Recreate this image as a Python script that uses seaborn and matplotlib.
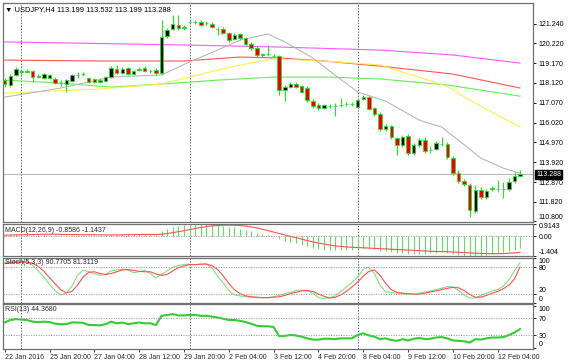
import matplotlib
matplotlib.use("Agg")
import matplotlib.pyplot as plt
import matplotlib.transforms as mtransforms
import numpy as np
import seaborn as sns

# USDJPY H4 candles, 22 Jan - 12 Feb 2016
opens = [
    118.27, 118.01, 118.54, 118.70, 118.75, 118.75, 118.48, 118.38, 118.38, 118.33,
    118.11, 118.06, 118.22, 118.54, 118.59, 118.38, 118.33, 118.27, 118.22, 118.43,
    118.86, 118.64, 118.91, 118.59, 118.80, 118.91, 118.75, 118.80, 118.64, 120.60,
    120.98, 121.19, 121.03, 121.35, 121.35, 121.35, 121.29, 121.24, 120.98, 120.98,
    120.76, 120.45, 120.71, 120.50, 120.18, 119.97, 119.60, 119.65, 119.54, 119.54,
    117.74, 117.90, 118.06, 117.95, 117.85, 117.16, 116.95, 116.79, 116.89, 116.89,
    116.95, 117.00, 117.00, 116.84, 117.27, 117.37, 116.79, 116.47, 115.68, 115.83,
    115.20, 114.83, 115.30, 114.41, 114.83, 115.09, 114.56, 114.62, 114.88, 114.88,
    114.14, 113.34, 112.92, 112.71, 111.33, 112.44, 112.07, 112.50, 112.50, 112.50,
    112.50, 112.92, 113.199]
highs = [
    118.38, 118.59, 118.96, 118.80, 118.86, 118.80, 118.59, 118.64, 118.59, 118.43,
    118.27, 118.33, 118.59, 118.70, 118.70, 118.43, 118.38, 118.38, 118.48, 119.02,
    119.07, 118.96, 118.96, 118.80, 118.96, 119.02, 118.86, 118.91, 121.45, 121.03,
    121.72, 121.72, 121.19, 121.50, 121.45, 121.45, 121.40, 121.35, 121.08, 121.08,
    120.82, 120.76, 120.76, 120.55, 120.29, 120.07, 119.70, 120.13, 119.65, 119.60,
    118.01, 118.17, 118.17, 118.01, 117.95, 117.27, 117.05, 117.00, 117.00, 117.05,
    117.32, 117.11, 117.11, 117.32, 117.48, 117.42, 116.84, 116.58, 115.94, 115.89,
    115.25, 115.36, 115.41, 114.93, 115.20, 115.25, 114.77, 115.04, 115.25, 114.99,
    114.24, 113.50, 113.02, 112.81, 112.71, 112.60, 112.50, 112.65, 112.97, 112.87,
    113.08, 113.40, 113.532]
lows = [
    117.90, 117.90, 118.48, 118.54, 118.64, 118.17, 118.38, 118.33, 118.33, 118.06,
    117.95, 117.64, 118.17, 118.38, 118.48, 118.11, 118.11, 118.11, 118.17, 118.38,
    118.59, 118.59, 118.54, 118.54, 118.75, 118.70, 118.64, 118.54, 118.54, 120.50,
    120.92, 120.92, 120.92, 121.24, 121.24, 121.13, 121.19, 121.03, 120.66, 120.71,
    120.29, 120.39, 120.39, 120.07, 119.86, 119.49, 119.49, 119.54, 119.44, 117.48,
    117.16, 117.85, 117.85, 117.58, 117.11, 116.79, 116.68, 116.74, 116.79, 116.36,
    116.84, 116.89, 116.89, 116.79, 117.21, 116.68, 116.36, 115.57, 115.57, 115.15,
    114.30, 114.72, 114.30, 114.30, 114.72, 114.41, 114.41, 114.56, 114.77, 114.09,
    113.24, 112.81, 112.65, 111.01, 111.22, 111.97, 111.97, 112.39, 112.34, 112.02,
    112.39, 112.81, 113.199]
closes = [
    118.06, 118.48, 118.86, 118.75, 118.72, 118.43, 118.46, 118.59, 118.54, 118.11,
    118.10, 118.27, 118.54, 118.56, 118.60, 118.17, 118.17, 118.17, 118.43, 118.91,
    118.64, 118.86, 118.59, 118.75, 118.86, 118.75, 118.74, 118.64, 120.55, 120.92,
    121.24, 121.03, 121.08, 121.36, 121.34, 121.19, 121.30, 121.08, 120.97, 120.76,
    120.39, 120.66, 120.50, 120.18, 119.97, 119.60, 119.65, 119.64, 119.53, 117.74,
    117.90, 118.06, 117.90, 117.64, 117.21, 116.89, 116.79, 116.95, 116.88, 116.90,
    116.94, 117.01, 116.99, 117.21, 117.37, 116.74, 116.47, 115.68, 115.83, 115.25,
    114.83, 115.25, 114.41, 114.83, 115.09, 114.51, 114.55, 114.93, 114.89, 114.19,
    113.34, 112.92, 112.76, 111.38, 112.44, 112.07, 112.39, 112.55, 112.51, 112.49,
    112.87, 113.199, 113.288]

# moving averages, sampled along each line (bar index, price)
gray_bars = [0, 10, 19, 28, 33, 38, 42, 47, 50, 55, 58, 63, 68, 74, 78, 81, 85, 89, 92]
gray_vals = [117.37, 117.85, 118.43, 118.54, 119.23, 119.86, 120.39, 120.71, 120.29, 119.44,
             118.75, 117.64, 117.16, 116.15, 115.78, 115.09, 114.14, 113.61, 113.34]
yellow_bars = [0, 17, 28, 33, 41, 48, 57, 67, 79, 83, 92]
yellow_vals = [117.58, 117.80, 118.06, 118.43, 119.01, 119.39, 119.28, 119.07, 117.95, 117.21, 115.78]
green_bars = [0, 10, 19, 28, 38, 48, 58, 67, 79, 92]
green_vals = [118.27, 118.11, 117.90, 118.06, 118.27, 118.43, 118.43, 118.33, 118.01, 117.42]
red_bars = [0, 17, 32, 42, 49, 57, 67, 80, 92]
red_vals = [119.33, 119.28, 119.28, 119.49, 119.44, 119.28, 119.01, 118.59, 117.85]
magenta_bars = [0, 32, 49, 67, 80, 92]
magenta_vals = [120.29, 120.13, 120.02, 119.86, 119.60, 119.17]

macd_hist = [
    0.12, 0.14, 0.17, 0.19, 0.20, 0.19, 0.16, 0.14, 0.12, 0.10,
    0.08, 0.08, 0.09, 0.11, 0.12, 0.11, 0.10, 0.09, 0.09, 0.11,
    0.12, 0.13, 0.13, 0.13, 0.13, 0.12, 0.12, 0.10, 0.35, 0.52,
    0.66, 0.76, 0.83, 0.88, 0.91, 0.90, 0.88, 0.86, 0.82, 0.77,
    0.70, 0.63, 0.55, 0.46, 0.37, 0.27, 0.18, 0.10, 0.03, -0.20,
    -0.33, -0.42, -0.50, -0.60, -0.72, -0.84, -0.93, -0.98, -1.00, -1.01,
    -1.00, -0.98, -0.96, -0.88, -0.80, -0.82, -0.90, -1.02, -1.08, -1.15,
    -1.20, -1.20, -1.24, -1.25, -1.23, -1.24, -1.22, -1.18, -1.14, -1.17,
    -1.26, -1.34, -1.38, -1.40, -1.39, -1.37, -1.33, -1.27, -1.20, -1.12,
    -1.03, -0.95, -0.8586]
macd_signal = [
    0.08, 0.09, 0.10, 0.11, 0.12, 0.13, 0.14, 0.15, 0.15, 0.15,
    0.14, 0.13, 0.13, 0.12, 0.12, 0.12, 0.11, 0.11, 0.10, 0.10,
    0.10, 0.11, 0.12, 0.12, 0.13, 0.13, 0.13, 0.13, 0.15, 0.20,
    0.26, 0.33, 0.40, 0.48, 0.56, 0.63, 0.69, 0.74, 0.77, 0.79,
    0.80, 0.79, 0.77, 0.73, 0.67, 0.60, 0.50, 0.41, 0.30, 0.20,
    0.10, 0.00, -0.10, -0.20, -0.30, -0.40, -0.48, -0.55, -0.62, -0.68,
    -0.72, -0.76, -0.78, -0.80, -0.82, -0.84, -0.86, -0.88, -0.90, -0.92,
    -0.94, -0.96, -0.98, -1.00, -1.02, -1.04, -1.06, -1.08, -1.09, -1.10,
    -1.12, -1.14, -1.16, -1.18, -1.20, -1.22, -1.23, -1.24, -1.24, -1.23,
    -1.21, -1.18, -1.1437]

stoch_main = [
    90, 92, 93, 92, 91, 84, 72, 58, 42, 28,
    18, 22, 38, 62, 74, 70, 66, 62, 64, 72,
    74, 76, 74, 68, 70, 73, 66, 56, 64, 72,
    80, 84, 86, 87, 86, 87, 88, 78, 60, 45,
    28, 18, 16, 14, 13, 12, 12, 12, 14, 17,
    21, 24, 28, 29, 27, 22, 12, 10, 12, 16,
    26, 36, 46, 58, 76, 80, 66, 40, 25, 24,
    22, 21, 20, 19, 22, 25, 27, 30, 33, 37,
    36, 28, 18, 11, 11, 17, 22, 27, 30, 38,
    52, 72, 90.77]
stoch_signal = [
    88, 90, 91, 92, 92, 89, 82, 71, 57, 43,
    30, 23, 26, 40, 58, 69, 70, 66, 64, 66,
    70, 74, 75, 73, 71, 70, 70, 65, 62, 64,
    72, 79, 83, 86, 86, 87, 87, 84, 75, 61,
    44, 30, 21, 16, 14, 13, 12, 12, 13, 14,
    17, 21, 24, 27, 28, 26, 20, 15, 11, 13,
    18, 26, 36, 47, 60, 71, 74, 62, 44, 30,
    24, 22, 21, 20, 20, 22, 25, 27, 30, 33,
    35, 34, 28, 19, 13, 13, 17, 22, 26, 32,
    40, 54, 81.31]

rsi_vals = [
    60, 66, 68, 67, 66, 62, 61, 62, 61, 57,
    56, 56, 60, 60, 59, 54, 54, 53, 56, 62,
    58, 60, 56, 58, 60, 58, 58, 54, 76, 78,
    80, 77, 77, 78, 78, 76, 76, 74, 72, 69,
    66, 66, 64, 61, 57, 52, 51, 51, 49, 27,
    28, 30, 29, 26, 22, 19, 19, 21, 21, 20,
    22, 22, 22, 30, 34, 29, 26, 20, 22, 18,
    16, 20, 17, 21, 23, 20, 21, 24, 25, 22,
    17, 16, 15, 12, 20, 19, 22, 24, 24, 25,
    30, 36, 44.37]

tick_bars = [0, 8, 16, 24, 32, 40, 48, 56, 64, 72, 80, 88]
tick_labels = ["22 Jan 2016", "25 Jan 20:00", "27 Jan 04:00", "28 Jan 12:00",
               "29 Jan 20:00", "2 Feb 04:00", "3 Feb 12:00", "4 Feb 20:00",
               "8 Feb 04:00", "9 Feb 12:00", "10 Feb 20:00", "12 Feb 04:00"]
week_bars = [3, 33, 63]
price_ticks = [121.240, 120.220, 119.170, 118.120, 117.070, 116.020,
               114.970, 113.920, 112.870, 111.820, 110.800]
last_price = 113.288

sns.set_theme(style="white")
plt.rcParams['font.family'] = ['Liberation Sans', 'DejaVu Sans']
FS = 5

W, H = 579, 364
fig = plt.figure(figsize=(W / 100, H / 100), dpi=100)


def panel(top, bottom):
    return fig.add_axes([3 / W, 1 - bottom / H, 530 / W, (bottom - top) / H])


ax = panel(3, 222)
ax_macd = panel(223.5, 256)
ax_sto = panel(257.5, 303)
ax_rsi = panel(304, 349)
axes = [ax, ax_macd, ax_sto, ax_rsi]

x = np.arange(len(closes))
o, h, l, c = map(np.array, (opens, highs, lows, closes))
wick = "#22e622"

# candles
ax.vlines(x, l, h, color=wick, lw=0.8, zorder=3)
body_col = np.where(c >= o, "black", "#ee0000")
ax.bar(x, np.abs(c - o), bottom=np.minimum(o, c), width=0.62, color=body_col,
       edgecolor=wick, linewidth=0.6, zorder=4)

for bars, vals, col in [(magenta_bars, magenta_vals, "#ff55ff"),
                        (red_bars, red_vals, "#ff5555"),
                        (green_bars, green_vals, "#66ee55"),
                        (yellow_bars, yellow_vals, "#ffee44"),
                        (gray_bars, gray_vals, "#b8b8b8")]:
    sns.lineplot(x=bars, y=vals, ax=ax, color=col, lw=0.8, zorder=2)

ax.axhline(last_price, color="#b8b8b8", lw=0.8, zorder=1)
ax.set_ylim(110.76, 122.35)
ax.set_yticks(price_ticks)
ax.set_yticklabels([f"{p:.3f}" for p in price_ticks])
ax.text(0.004, 0.972, "\u25bc USDJPY,H4 113.199 113.532 113.199 113.288",
        transform=ax.transAxes, fontsize=5.4, va="center", ha="left", color="black")
tr = mtransforms.blended_transform_factory(ax.transAxes, ax.transData)
ax.text(1.006, last_price, f"{last_price:.3f}", transform=tr, fontsize=FS,
        color="white", va="center", ha="left",
        bbox=dict(boxstyle="square,pad=0.15", fc="black", ec="black"))

# MACD
ax_macd.vlines(x, 0, macd_hist, color="#66dd66", lw=0.8)
sns.lineplot(x=x, y=macd_signal, ax=ax_macd, color="#ff5050", lw=0.8)
ax_macd.axhline(0, color="#999999", lw=0.6, ls=(0, (1.5, 1.5)))
ax_macd.set_ylim(-1.404, 0.9143)
ax_macd.set_yticks([0.9143, 0, -1.404])
ax_macd.set_yticklabels(["0.9143", "0.00", "-1.404"])
ax_macd.text(0.004, 0.78, "MACD(12,26,9) -0.8586 -1.1437", transform=ax_macd.transAxes,
             fontsize=FS, va="center", ha="left")

# Stochastic
sns.lineplot(x=x, y=stoch_main, ax=ax_sto, color="#80e080", lw=0.8)
sns.lineplot(x=x, y=stoch_signal, ax=ax_sto, color="#ff5050", lw=0.8)
for lev in (80, 20):
    ax_sto.axhline(lev, color="#999999", lw=0.6, ls=(0, (1.5, 1.5)))
ax_sto.set_ylim(0, 102)
ax_sto.set_yticks([100, 80, 20, 0])
ax_sto.set_yticklabels(["100", "80", "20", "0"])
ax_sto.text(0.004, 0.88, "Stoch(5,3,3) 90.7705 81.3119", transform=ax_sto.transAxes,
            fontsize=FS, va="center", ha="left")

# RSI
sns.lineplot(x=x, y=rsi_vals, ax=ax_rsi, color="#33cc33", lw=1.5)
for lev in (70, 30):
    ax_rsi.axhline(lev, color="#999999", lw=0.6, ls=(0, (1.5, 1.5)))
ax_rsi.set_ylim(-3.5, 104.3)
ax_rsi.set_yticks([100, 70, 30, 0])
ax_rsi.set_yticklabels(["100", "70", "30", "0"])
ax_rsi.text(0.004, 0.87, "RSI(13) 44.3680", transform=ax_rsi.transAxes,
            fontsize=FS, va="center", ha="left")

for a in axes:
    a.set_xlim(-0.3, 94.3)
    a.set_xlabel("")
    a.set_ylabel("")
    a.set_facecolor("white")
    for b in week_bars:
        a.axvline(b, color="#666666", lw=0.7, ls=(0, (1.5, 1.5)), zorder=0)
    a.yaxis.tick_right()
    a.tick_params(axis="y", direction="out", length=2.5, width=0.6, pad=1.5,
                  labelsize=FS, colors="black", right=True, left=False)
    for s in a.spines.values():
        s.set_color("#707070")
        s.set_linewidth(0.9)
    if a is not ax_rsi:
        a.set_xticks([])

# keep edge labels inside their panels
ax.get_yticklabels()[-1].set_va("bottom")
for a in (ax_macd, ax_sto, ax_rsi):
    labs = a.get_yticklabels()
    labs[0].set_va("top")
    labs[-1].set_va("bottom")
ax_sto.get_yticklabels()[2].set_va("bottom")

ax_rsi.set_xticks(tick_bars)
ax_rsi.set_xticklabels(tick_labels, ha="left")
ax_rsi.tick_params(axis="x", direction="out", length=2, width=0.6, pad=1.5,
                   labelsize=FS, bottom=True)

fig.savefig("out.png", dpi=100)
